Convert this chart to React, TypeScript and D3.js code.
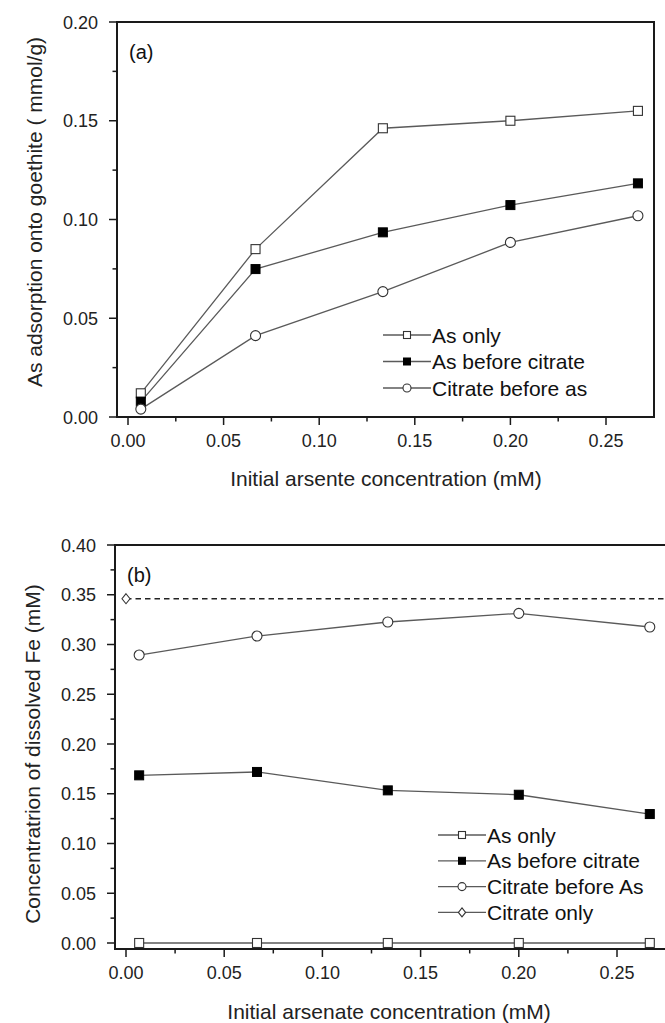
import React from "react";
import * as d3 from "d3";

const xValues = [0.0067, 0.0667, 0.1333, 0.2, 0.2667];

// Panel (a)
const aAsOnly = [0.012, 0.085, 0.1462, 0.150, 0.155];
const aAsBeforeCitrate = [0.0078, 0.0749, 0.0935, 0.1073, 0.1183];
const aCitrateBeforeAs = [0.004, 0.0412, 0.0635, 0.0884, 0.1019];

// Panel (b)
const bAsOnly = [0.0, 0.0, 0.0, 0.0, 0.0];
const bAsBeforeCitrate = [0.1685, 0.1719, 0.1534, 0.149, 0.1296];
const bCitrateBeforeAs = [0.2894, 0.3085, 0.3226, 0.3313, 0.3176];
const bCitrateOnlyX = [0.0];
const bCitrateOnly = [0.346];

const xTicks = [0, 0.05, 0.1, 0.15, 0.2, 0.25];
const xMinor = [0.025, 0.075, 0.125, 0.175, 0.225, 0.275];
const aYTicks = [0, 0.05, 0.1, 0.15, 0.2];
const aYMinor = [0.025, 0.075, 0.125, 0.175];
const bYTicks = [0, 0.05, 0.1, 0.15, 0.2, 0.25, 0.3, 0.35, 0.4];
const bYMinor = [0.025, 0.075, 0.125, 0.175, 0.225, 0.275, 0.325, 0.375];

const aLegend = ["As only", "As before citrate", "Citrate before as"];
const bLegend = ["As only", "As before citrate", "Citrate before As", "Citrate only"];
const markerTypes = ["sqOpen", "sqFilled", "circle", "diamond"];

const FONT = "'Liberation Sans', Arial, sans-serif";
const AXIS = "#1a1a1a";
const LINE = "#5a5a5a";
const MK = "#333";

function Marker({ type, x, y, s }: { type: string; x: number; y: number; s: number }) {
  if (type === "sqOpen")
    return <rect x={x - s / 2} y={y - s / 2} width={s} height={s} fill="#fff" stroke={MK} strokeWidth={1.1} />;
  if (type === "sqFilled")
    return <rect x={x - s / 2} y={y - s / 2} width={s} height={s} fill="#000" stroke="#000" strokeWidth={1} />;
  if (type === "circle")
    return <circle cx={x} cy={y} r={s / 2 + 0.5} fill="#fff" stroke={MK} strokeWidth={1.1} />;
  const h = s / 2 + 1;
  return (
    <path d={`M${x},${y - h}L${x + h * 0.8},${y}L${x},${y + h}L${x - h * 0.8},${y}Z`} fill="#fff" stroke={MK} strokeWidth={1.1} />
  );
}

type PanelProps = {
  x: d3.ScaleLinear<number, number>;
  y: d3.ScaleLinear<number, number>;
  left: number;
  right: number;
  top: number;
  bottom: number;
  yTicks: number[];
  yMinor: number[];
  series: number[][];
  label: string;
  xTitle: string;
  xTitleX: number;
  xTitleY: number;
  yTitle: string;
  yTitleX: number;
  yTitleY: number;
  legend: string[];
  legendX: number;
  legendY: number;
  legendStep: number;
  rightBorder: boolean;
};

function Panel(p: PanelProps) {
  const line = d3
    .line<number>()
    .x((_, i) => p.x(xValues[i]))
    .y((d) => p.y(d));
  const fmt = d3.format(".2f");
  return (
    <g>
      {p.series.map((s, k) => (
        <path key={"l" + k} d={line(s) || ""} fill="none" stroke={LINE} strokeWidth={1.3} />
      ))}
      {p.series.map((s, k) =>
        s.map((v, i) => <Marker key={`m${k}-${i}`} type={markerTypes[k]} x={p.x(xValues[i])} y={p.y(v)} s={9} />)
      )}
      <line x1={p.left} x2={p.left} y1={p.top} y2={p.bottom} stroke={AXIS} strokeWidth={2} />
      <line x1={p.left - 1} x2={p.right + 1} y1={p.bottom} y2={p.bottom} stroke={AXIS} strokeWidth={2} />
      <line x1={p.left - 1} x2={p.right + 1} y1={p.top} y2={p.top} stroke={AXIS} strokeWidth={2} />
      {p.rightBorder && <line x1={p.right} x2={p.right} y1={p.top} y2={p.bottom} stroke={AXIS} strokeWidth={2} />}
      {p.yTicks.map((t) => (
        <g key={"yt" + t}>
          <line x1={p.left - 8} x2={p.left} y1={p.y(t)} y2={p.y(t)} stroke={AXIS} strokeWidth={1.5} />
          <text x={p.left - 19} y={p.y(t) + 6.5} textAnchor="end" fontSize={18} fill="#222" fontFamily={FONT}>
            {fmt(t)}
          </text>
        </g>
      ))}
      {p.yMinor.map((t) => (
        <line key={"ym" + t} x1={p.left - 4.5} x2={p.left} y1={p.y(t)} y2={p.y(t)} stroke={AXIS} strokeWidth={1.5} />
      ))}
      {xTicks.map((t) => (
        <g key={"xt" + t}>
          <line x1={p.x(t)} x2={p.x(t)} y1={p.bottom} y2={p.bottom + 8} stroke={AXIS} strokeWidth={1.5} />
          <text x={p.x(t)} y={p.bottom + 30} textAnchor="middle" fontSize={18} fill="#222" fontFamily={FONT}>
            {fmt(t)}
          </text>
        </g>
      ))}
      {xMinor
        .filter((t) => p.x(t) < p.right - 2)
        .map((t) => (
          <line key={"xm" + t} x1={p.x(t)} x2={p.x(t)} y1={p.bottom} y2={p.bottom + 4.5} stroke={AXIS} strokeWidth={1.5} />
        ))}
      <text x={p.left + 12} y={p.top + 37} fontSize={20} fill="#111" fontFamily={FONT}>
        {p.label}
      </text>
      <text x={p.xTitleX} y={p.xTitleY} textAnchor="middle" fontSize={21} fill="#222" fontFamily={FONT}>
        {p.xTitle}
      </text>
      <text
        transform={`translate(${p.yTitleX},${p.yTitleY}) rotate(-90)`}
        textAnchor="middle"
        fontSize={21}
        fill="#222"
        fontFamily={FONT}
      >
        {p.yTitle}
      </text>
      {p.legend.map((name, k) => {
        const ly = p.legendY + k * p.legendStep;
        return (
          <g key={"lg" + k}>
            <line x1={p.legendX} x2={p.legendX + 48} y1={ly} y2={ly} stroke={LINE} strokeWidth={1.3} />
            <Marker type={markerTypes[k]} x={p.legendX + 24} y={ly} s={7} />
            <text x={p.legendX + 49} y={ly + 7.5} fontSize={21} fill="#111" fontFamily={FONT}>
              {name}
            </text>
          </g>
        );
      })}
    </g>
  );
}

export default function App() {
  const aLeft = 117,
    aRight = 654,
    aTop = 22,
    aBottom = 417;
  const xA = d3.scaleLinear().domain([0, 0.25]).range([128, 606]);
  const yA = d3.scaleLinear().domain([0, 0.2]).range([aBottom, aTop]);

  const bLeft = 115,
    bRight = 668,
    bTop = 545;
  const xB = d3.scaleLinear().domain([0, 0.25]).range([126, 617]);
  const yB = d3.scaleLinear().domain([0, 0.4]).range([943, 545]);
  const bBottom = yB(-0.006);

  const dashY = yB(bCitrateOnly[0]);

  return (
    <svg width={665} height={1023} style={{ position: "absolute", left: 0, top: 0, background: "#fff" }} viewBox="0 0 665 1023">
      <rect width={665} height={1023} fill="#fff" />
      <Panel
        x={xA}
        y={yA}
        left={aLeft}
        right={aRight}
        top={aTop}
        bottom={aBottom}
        yTicks={aYTicks}
        yMinor={aYMinor}
        series={[aAsOnly, aAsBeforeCitrate, aCitrateBeforeAs]}
        label="(a)"
        xTitle="Initial arsente concentration (mM)"
        xTitleX={386}
        xTitleY={486}
        yTitle="As adsorption onto goethite ( mmol/g)"
        yTitleX={42}
        yTitleY={212}
        legend={aLegend}
        legendX={383}
        legendY={335}
        legendStep={26.5}
        rightBorder={true}
      />
      <line x1={xB(bCitrateOnlyX[0])} x2={bRight} y1={dashY} y2={dashY} stroke="#222" strokeWidth={1.4} strokeDasharray="5.5,4" />
      <Marker type="diamond" x={xB(bCitrateOnlyX[0])} y={dashY} s={8} />
      <Panel
        x={xB}
        y={yB}
        left={bLeft}
        right={bRight}
        top={bTop}
        bottom={bBottom}
        yTicks={bYTicks}
        yMinor={bYMinor}
        series={[bAsOnly, bAsBeforeCitrate, bCitrateBeforeAs]}
        label="(b)"
        xTitle="Initial arsenate concentration (mM)"
        xTitleX={389}
        xTitleY={1019}
        yTitle="Concentratrion of dissolved Fe (mM)"
        yTitleX={40}
        yTitleY={754}
        legend={bLegend}
        legendX={438}
        legendY={835}
        legendStep={25.8}
        rightBorder={false}
      />
    </svg>
  );
}
